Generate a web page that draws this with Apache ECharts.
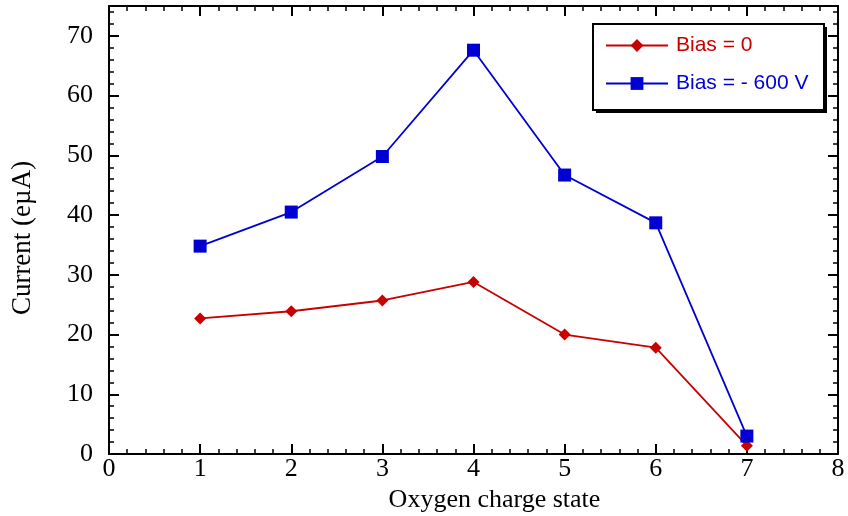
<!DOCTYPE html>
<html>
<head>
<meta charset="utf-8">
<script src="https://cdn.jsdelivr.net/npm/echarts@6/dist/echarts.min.js"></script>
<style>
  html, body { margin: 0; padding: 0; background: #fff; }
  #chart { width: 848px; height: 516px; }
</style>
</head>
<body>
<div id="chart"></div>
<script>
// Oxygen charge states and measured beam current (eµA)
const chargeStates = [1, 2, 3, 4, 5, 6, 7];
const biasZero = [22.7, 23.9, 25.7, 28.8, 20.0, 17.8, 1.4];
const bias600 = [34.8, 40.5, 49.8, 67.6, 46.7, 38.7, 3.0];
const seriesNames = ['Bias = 0', 'Bias = - 600 V'];

const RED = '#c80000';
const BLUE = '#0000d2';
const SERIF = '"Liberation Serif", "Times New Roman", serif';
const SANS = '"Liberation Sans", Arial, sans-serif';

// Boxed frame: every side carries inward major and minor ticks
const frameAxis = (label) => ({
  axisLine: { show: true, onZero: false, lineStyle: { color: '#000', width: 2 } },
  axisTick: { show: true, inside: true, length: 10, lineStyle: { color: '#000', width: 2 } },
  minorTick: { show: true, splitNumber: 5, length: 5, lineStyle: { color: '#000', width: 1.5 } },
  splitLine: { show: false },
  minorSplitLine: { show: false },
  axisLabel: label
});

const chart = echarts.init(document.getElementById('chart'));
chart.setOption({
  animation: false,
  grid: { left: 109, right: 10, top: 6, bottom: 62, containLabel: false, outerBoundsMode: 'none' },
  // legend frame with a hard drop shadow
  graphic: [
    { type: 'rect', left: 596, top: 27, shape: { width: 231, height: 86 }, style: { fill: '#000' }, z: 5 },
    { type: 'rect', left: 592, top: 23, shape: { width: 231, height: 86 }, style: { fill: '#fff', stroke: '#000', lineWidth: 2 }, z: 6 }
  ],
  legend: {
    orient: 'vertical',
    left: 592,
    top: 23,
    padding: [12, 12, 15, 13],
    itemWidth: 62,
    itemHeight: 16,
    itemGap: 17,
    z: 10,
    textStyle: { fontFamily: SANS, fontSize: 21, padding: [0, 0, 0, 3] },
    data: [
      { name: seriesNames[0], textStyle: { color: RED } },
      { name: seriesNames[1], textStyle: { color: BLUE } }
    ]
  },
  xAxis: [
    Object.assign({
      type: 'value', min: 0, max: 8, interval: 1, position: 'bottom',
      name: 'Oxygen charge state', nameLocation: 'middle', nameGap: 30,
      nameTextStyle: { fontFamily: SERIF, fontSize: 26, color: '#000', padding: [0, 0, 0, 42] }
    }, frameAxis({ show: true, fontFamily: SERIF, fontSize: 26, color: '#000', margin: 2 })),
    Object.assign({ type: 'value', min: 0, max: 8, interval: 1, position: 'top' }, frameAxis({ show: false }))
  ],
  yAxis: [
    Object.assign({
      type: 'value', min: 0, max: 75, interval: 10, position: 'left',
      name: 'Current (eµA)', nameLocation: 'middle', nameGap: 73,
      nameTextStyle: { fontFamily: SERIF, fontSize: 27, color: '#000', padding: [0, 16, 0, 0] }
    }, frameAxis({ show: true, showMaxLabel: false, fontFamily: SERIF, fontSize: 26, color: '#000', margin: 16 })),
    Object.assign({ type: 'value', min: 0, max: 75, interval: 10, position: 'right' }, frameAxis({ show: false }))
  ],
  series: [
    {
      name: seriesNames[0], type: 'line',
      data: chargeStates.map((c, i) => [c, biasZero[i]]),
      symbol: 'diamond', symbolSize: 12,
      lineStyle: { color: RED, width: 1.8 },
      itemStyle: { color: RED }
    },
    {
      name: seriesNames[1], type: 'line',
      data: chargeStates.map((c, i) => [c, bias600[i]]),
      symbol: 'rect', symbolSize: 13,
      lineStyle: { color: BLUE, width: 1.8 },
      itemStyle: { color: BLUE }
    }
  ]
});
</script>
</body>
</html>
